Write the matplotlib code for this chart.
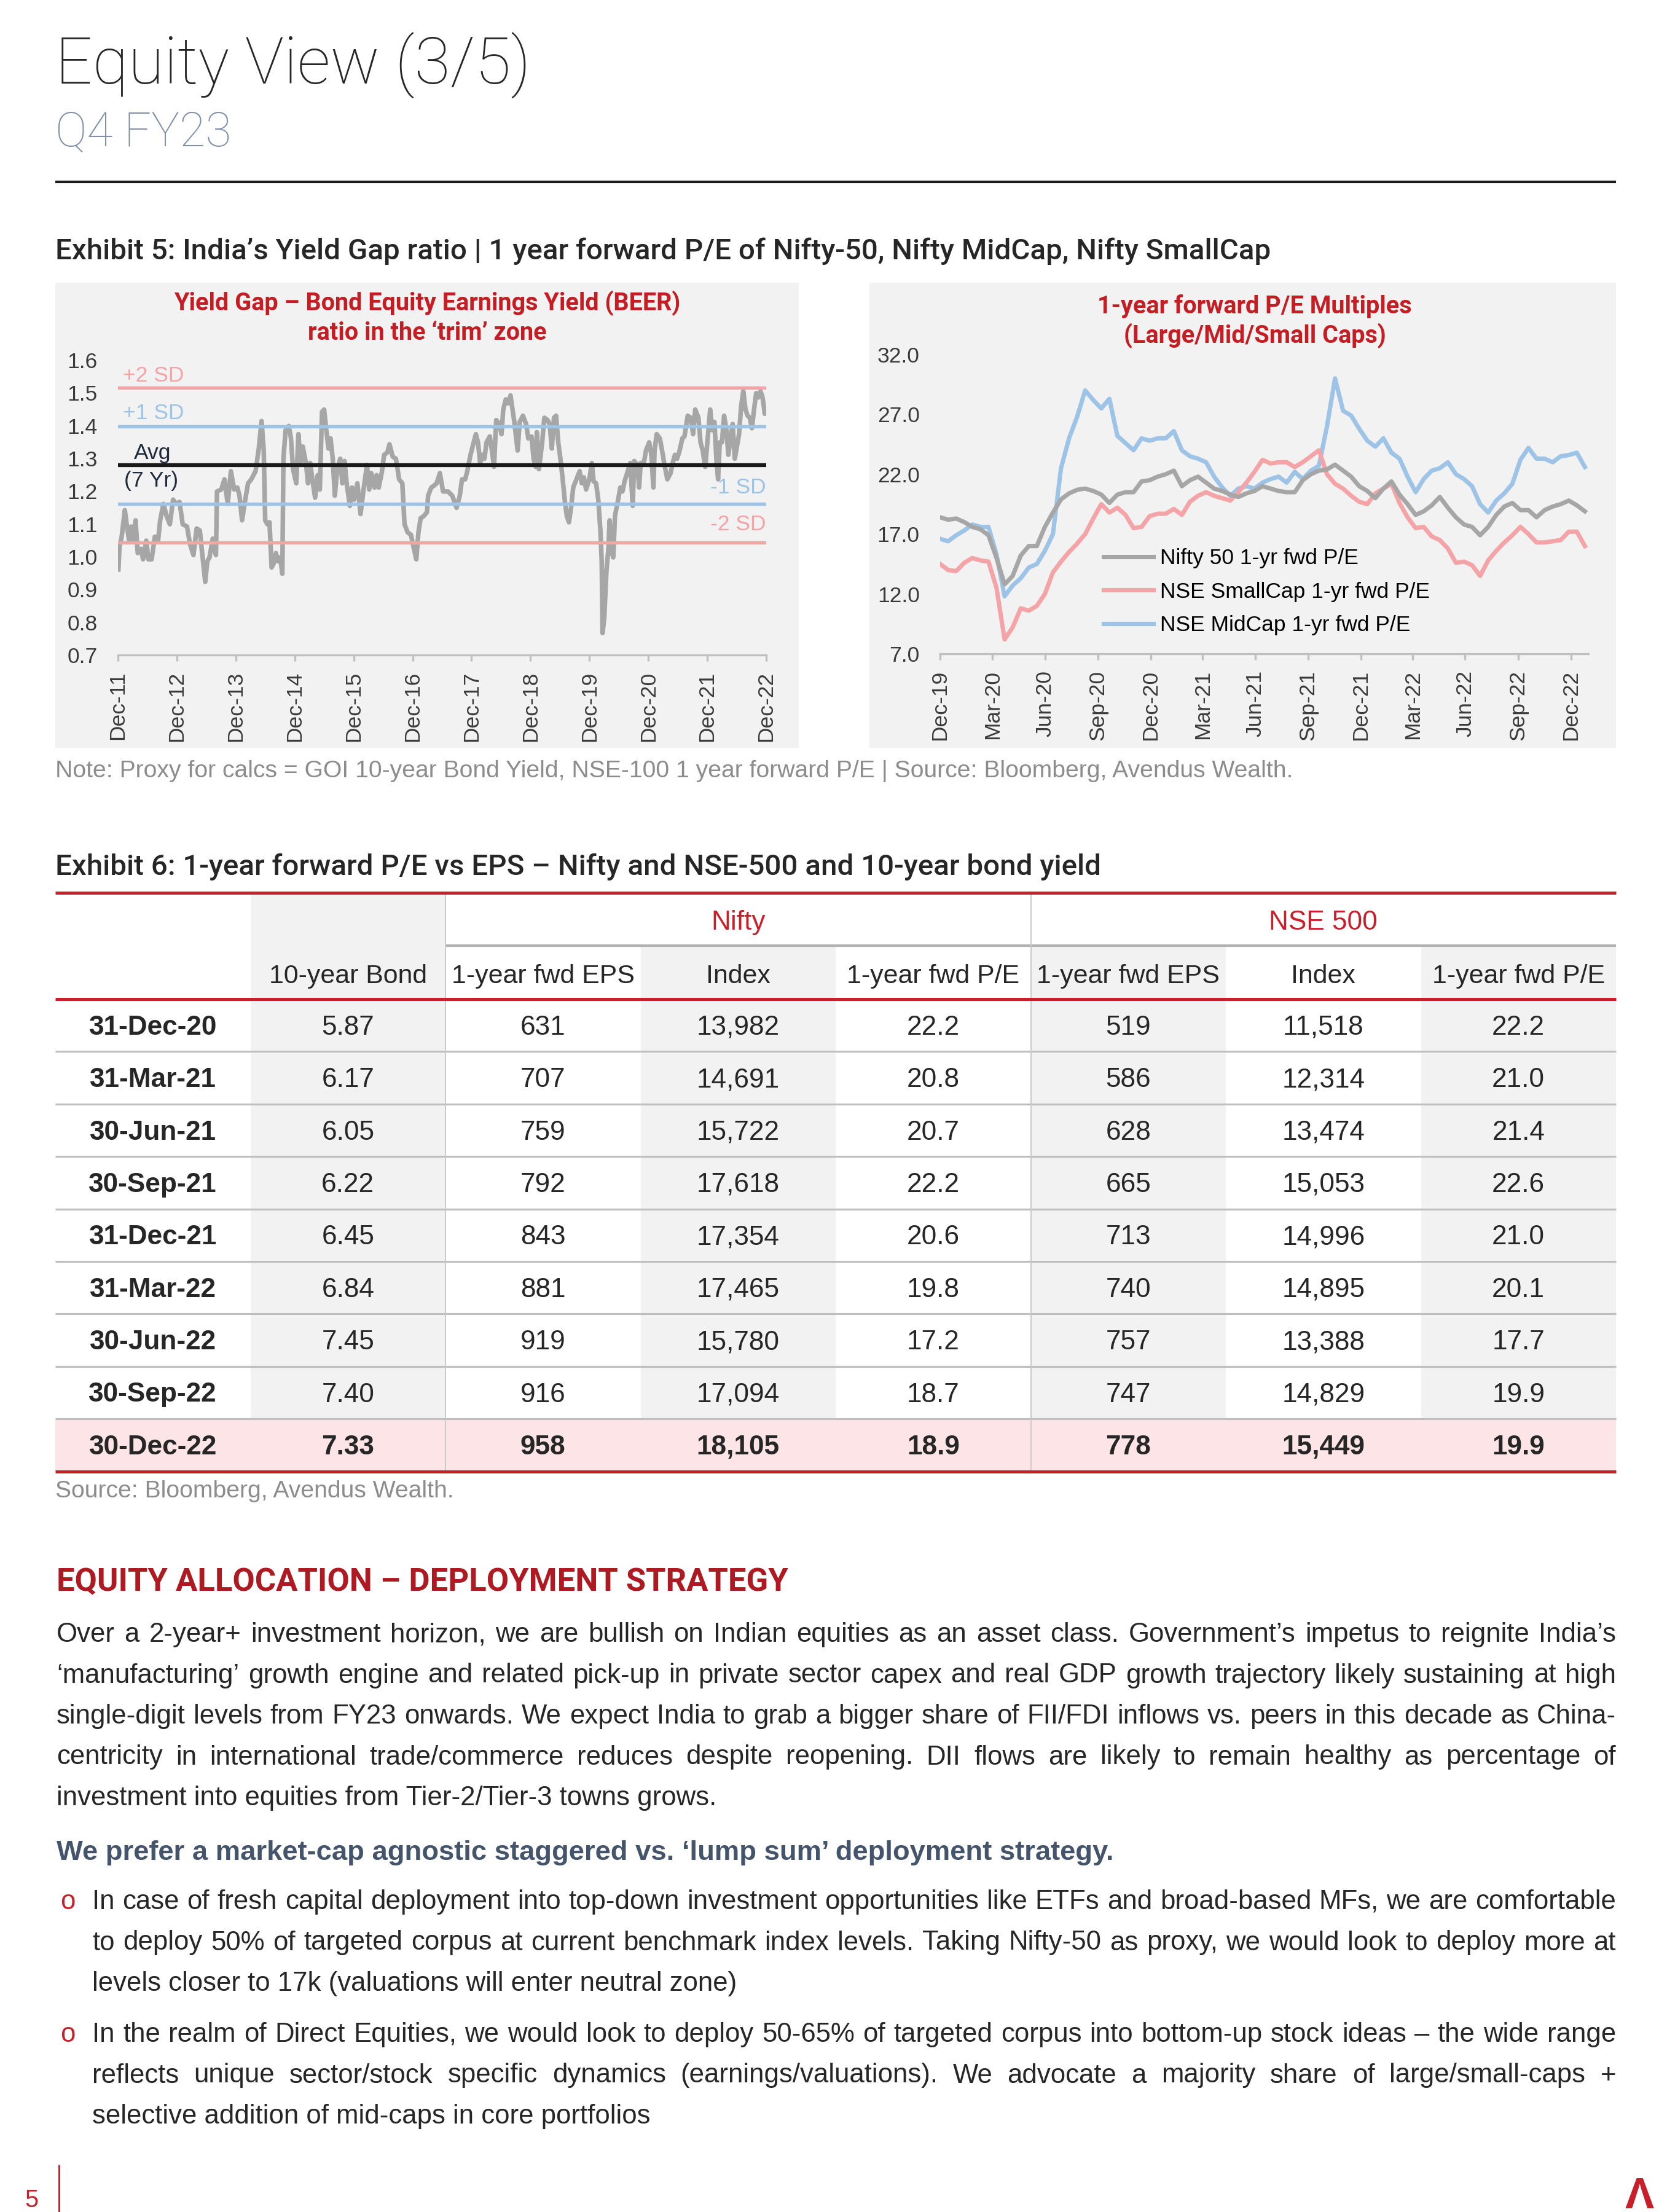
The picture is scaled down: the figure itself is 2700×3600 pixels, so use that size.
import matplotlib
matplotlib.use("Agg")
import matplotlib.pyplot as plt
from matplotlib.lines import Line2D
from matplotlib.patches import Rectangle
import pandas as pd

# ---- data: yield gap (BEER) ratio (decimal years) ----
beer_t = [2011.924, 2011.942, 2011.979, 2012.033, 2012.070, 2012.106, 2012.142, 2012.179, 2012.215, 2012.252,
          2012.306, 2012.342, 2012.397, 2012.433, 2012.488, 2012.542, 2012.597, 2012.633, 2012.688, 2012.742,
          2012.797, 2012.852, 2012.906, 2012.961, 2013.015, 2013.088, 2013.142, 2013.197, 2013.252, 2013.306,
          2013.342, 2013.397, 2013.433, 2013.470, 2013.524, 2013.579, 2013.597, 2013.670, 2013.724, 2013.779,
          2013.833, 2013.888, 2013.942, 2013.979, 2014.022, 2014.070, 2014.124, 2014.179, 2014.252, 2014.306,
          2014.353, 2014.390, 2014.415, 2014.452, 2014.488, 2014.524, 2014.561, 2014.597, 2014.633, 2014.670,
          2014.706, 2014.724, 2014.761, 2014.815, 2014.852, 2014.888, 2014.942, 2014.979, 2015.015, 2015.052,
          2015.106, 2015.142, 2015.179, 2015.215, 2015.262, 2015.306, 2015.342, 2015.379, 2015.415, 2015.452,
          2015.488, 2015.524, 2015.561, 2015.597, 2015.633, 2015.688, 2015.724, 2015.761, 2015.797, 2015.852,
          2015.888, 2015.924, 2015.979, 2016.033, 2016.088, 2016.142, 2016.179, 2016.215, 2016.270, 2016.306,
          2016.342, 2016.397, 2016.433, 2016.488, 2016.524, 2016.579, 2016.633, 2016.688, 2016.742, 2016.779,
          2016.833, 2016.888, 2016.924, 2016.979, 2017.015, 2017.052, 2017.106, 2017.161, 2017.179, 2017.233,
          2017.288, 2017.324, 2017.379, 2017.433, 2017.518, 2017.590, 2017.663, 2017.717, 2017.754, 2017.808,
          2017.844, 2017.899, 2017.953, 2017.990, 2018.026, 2018.062, 2018.099, 2018.135, 2018.171, 2018.226,
          2018.262, 2018.298, 2018.335, 2018.389, 2018.425, 2018.454, 2018.498, 2018.534, 2018.578, 2018.607,
          2018.643, 2018.698, 2018.734, 2018.788, 2018.843, 2018.879, 2018.934, 2018.970, 2019.006, 2019.024,
          2019.061, 2019.115, 2019.152, 2019.206, 2019.242, 2019.279, 2019.315, 2019.351, 2019.388, 2019.424,
          2019.460, 2019.497, 2019.533, 2019.569, 2019.605, 2019.642, 2019.696, 2019.751, 2019.787, 2019.823,
          2019.860, 2019.914, 2019.958, 2019.987, 2020.030, 2020.067, 2020.103, 2020.125, 2020.139, 2020.168,
          2020.205, 2020.241, 2020.259, 2020.295, 2020.321, 2020.350, 2020.404, 2020.441, 2020.477, 2020.513,
          2020.568, 2020.611, 2020.651, 2020.677, 2020.731, 2020.760, 2020.786, 2020.840, 2020.876, 2020.931,
          2020.967, 2021.003, 2021.022, 2021.058, 2021.112, 2021.149, 2021.185, 2021.239, 2021.294, 2021.330,
          2021.367, 2021.403, 2021.439, 2021.494, 2021.530, 2021.584, 2021.639, 2021.675, 2021.712, 2021.766,
          2021.802, 2021.839, 2021.882, 2021.918, 2021.966, 2022.002, 2022.038, 2022.075, 2022.100, 2022.129,
          2022.165, 2022.202, 2022.238, 2022.274, 2022.311, 2022.347, 2022.383, 2022.420, 2022.456, 2022.492,
          2022.528, 2022.565, 2022.601, 2022.637, 2022.674, 2022.710, 2022.746, 2022.783, 2022.819, 2022.855,
          2022.892, 2022.917]
beer_v = [0.961, 1.030, 1.060, 1.142, 1.092, 1.049, 1.092, 1.049, 1.111, 1.011,
          1.024, 0.992, 1.049, 0.992, 0.992, 1.061, 1.049, 1.111, 1.161, 1.124,
          1.099, 1.174, 1.161, 1.167, 1.099, 1.092, 1.036, 1.005, 1.086, 1.080,
          1.017, 0.923, 0.986, 0.998, 1.055, 1.005, 1.199, 1.205, 1.236, 1.161,
          1.261, 1.205, 1.211, 1.186, 1.111, 1.167, 1.224, 1.236, 1.261, 1.330,
          1.414, 1.324, 1.111, 1.099, 1.105, 0.967, 0.980, 1.011, 0.986, 0.998,
          0.948, 1.299, 1.386, 1.399, 1.361, 1.267, 1.224, 1.374, 1.280, 1.336,
          1.286, 1.224, 1.286, 1.236, 1.180, 1.249, 1.205, 1.442, 1.449, 1.386,
          1.330, 1.361, 1.299, 1.186, 1.261, 1.299, 1.224, 1.292, 1.224, 1.155,
          1.211, 1.174, 1.224, 1.130, 1.211, 1.280, 1.205, 1.255, 1.211, 1.249,
          1.211, 1.261, 1.311, 1.318, 1.343, 1.305, 1.299, 1.236, 1.224, 1.099,
          1.074, 1.067, 1.036, 0.992, 1.074, 1.117, 1.124, 1.136, 1.186, 1.211,
          1.218, 1.224, 1.255, 1.199, 1.199, 1.186, 1.149, 1.186, 1.236, 1.236,
          1.261, 1.311, 1.349, 1.374, 1.349, 1.286, 1.311, 1.299, 1.349, 1.367,
          1.324, 1.274, 1.417, 1.405, 1.374, 1.449, 1.480, 1.468, 1.492, 1.455,
          1.411, 1.324, 1.411, 1.430, 1.405, 1.361, 1.367, 1.299, 1.274, 1.380,
          1.267, 1.349, 1.424, 1.417, 1.405, 1.330, 1.424, 1.430, 1.349, 1.299,
          1.242, 1.174, 1.124, 1.105, 1.149, 1.211, 1.236, 1.261, 1.224, 1.242,
          1.205, 1.236, 1.286, 1.230, 1.224, 1.174, 1.080, 0.986, 0.767, 0.811,
          0.955, 1.030, 1.111, 1.011, 0.998, 1.124, 1.174, 1.211, 1.199, 1.230,
          1.261, 1.286, 1.155, 1.292, 1.280, 1.211, 1.286, 1.286, 1.324, 1.349,
          1.311, 1.211, 1.324, 1.374, 1.361, 1.324, 1.286, 1.236, 1.255, 1.286,
          1.311, 1.299, 1.318, 1.361, 1.367, 1.430, 1.424, 1.374, 1.449, 1.424,
          1.349, 1.324, 1.274, 1.349, 1.449, 1.386, 1.411, 1.286, 1.236, 1.349,
          1.349, 1.430, 1.392, 1.311, 1.361, 1.405, 1.299, 1.336, 1.374, 1.461,
          1.505, 1.449, 1.430, 1.424, 1.392, 1.449, 1.499, 1.486, 1.505, 1.486,
          1.436, 1.442]
beer_bands = [1.516, 1.397, 1.279, 1.161, 1.043]   # +2SD, +1SD, avg, -1SD, -2SD
beer_ticks = ["Dec-11", "Dec-12", "Dec-13", "Dec-14", "Dec-15", "Dec-16",
              "Dec-17", "Dec-18", "Dec-19", "Dec-20", "Dec-21", "Dec-22"]

# ---- data: 1-yr fwd P/E, fortnightly from 31-Dec-19 ----
pe_dates = pd.date_range("2019-12-31", periods=81, freq="14D")
nifty_pe_s = [18.4, 18.2, 18.3, 18.0, 17.6, 17.4, 16.9, 15.0, 12.8, 13.5,
              15.2, 16.0, 16.0, 17.6, 18.8, 19.9, 20.4, 20.7, 20.8, 20.6,
              20.3, 19.6, 20.3, 20.5, 20.5, 21.4, 21.5, 21.8, 22.0, 22.3,
              21.0, 21.5, 21.8, 21.3, 20.8, 20.6, 20.3, 20.1, 20.4, 20.6,
              21.0, 20.8, 20.6, 20.5, 20.5, 21.5, 22.0, 22.3, 22.4, 22.8,
              22.3, 21.8, 21.0, 20.6, 20.0, 20.8, 21.4, 20.3, 19.5, 18.6,
              18.9, 19.4, 20.1, 19.2, 18.4, 17.8, 17.6, 16.9, 17.6, 18.6,
              19.3, 19.6, 19.0, 19.0, 18.4, 19.0, 19.3, 19.5, 19.8, 19.4, 18.9]
small_pe_s = [14.5, 14.0, 13.9, 14.6, 15.0, 14.8, 14.7, 12.5, 8.2, 9.2,
              10.8, 10.6, 11.0, 12.0, 13.8, 14.7, 15.5, 16.2, 17.0, 18.3,
              19.5, 18.8, 19.2, 18.6, 17.5, 17.6, 18.5, 18.7, 18.7, 19.1,
              18.6, 19.7, 20.2, 20.5, 20.2, 20.0, 19.8, 20.5, 21.3, 22.2,
              23.2, 22.9, 23.0, 23.0, 22.6, 23.0, 23.5, 24.0, 22.0, 21.2,
              20.8, 20.2, 19.7, 19.5, 20.4, 20.8, 21.2, 19.6, 18.4, 17.5,
              17.6, 16.8, 16.5, 15.8, 14.6, 14.7, 14.4, 13.5, 14.8, 15.6,
              16.3, 16.9, 17.6, 17.0, 16.3, 16.3, 16.4, 16.5, 17.2, 17.2, 16.0]
mid_pe_s = [16.6, 16.4, 16.9, 17.3, 17.8, 17.6, 17.6, 15.3, 11.8, 12.7,
            13.3, 14.2, 14.5, 15.6, 17.0, 22.5, 25.0, 26.8, 29.0, 28.2,
            27.5, 28.3, 25.2, 24.6, 24.0, 25.0, 24.8, 25.0, 25.0, 25.6,
            24.0, 23.5, 23.3, 23.0, 21.8, 20.9, 20.2, 20.8, 21.0, 20.8,
            21.3, 21.6, 21.8, 21.3, 22.2, 21.6, 22.3, 22.7, 26.0, 30.0,
            27.3, 26.9, 25.8, 24.8, 24.3, 25.0, 23.8, 23.3, 21.8, 20.5,
            21.6, 22.3, 22.5, 23.0, 22.0, 21.6, 21.0, 19.5, 18.8, 19.8,
            20.4, 21.2, 23.2, 24.2, 23.3, 23.3, 23.0, 23.5, 23.6, 23.8, 22.6]
pe_ticks = ["2019-12-31", "2020-03-31", "2020-06-30", "2020-09-30", "2020-12-31", "2021-03-31",
            "2021-06-30", "2021-09-30", "2021-12-31", "2022-03-31", "2022-06-30", "2022-09-30",
            "2022-12-31"]

# ---- data: exhibit 6 table ----
tbl_dates = ["31-Dec-20", "31-Mar-21", "30-Jun-21", "30-Sep-21", "31-Dec-21",
             "31-Mar-22", "30-Jun-22", "30-Sep-22", "30-Dec-22"]
bond_yield = [5.87, 6.17, 6.05, 6.22, 6.45, 6.84, 7.45, 7.40, 7.33]
nifty_eps = [631, 707, 759, 792, 843, 881, 919, 916, 958]
nifty_idx = [13982, 14691, 15722, 17618, 17354, 17465, 15780, 17094, 18105]
nifty_pe = [22.2, 20.8, 20.7, 22.2, 20.6, 19.8, 17.2, 18.7, 18.9]
nse_eps = [519, 586, 628, 665, 713, 740, 757, 747, 778]
nse_idx = [11518, 12314, 13474, 15053, 14996, 14895, 13388, 14829, 15449]
nse_pe = [22.2, 21.0, 21.4, 22.6, 21.0, 20.1, 17.7, 19.9, 19.9]
col_heads = ["10-year Bond", "1-year fwd EPS", "Index", "1-year fwd P/E",
             "1-year fwd EPS", "Index", "1-year fwd P/E"]

para = [
    "Over a 2-year+ investment horizon, we are bullish on Indian equities as an asset class. Government\u2019s impetus to reignite India\u2019s",
    "\u2018manufacturing\u2019 growth engine and related pick-up in private sector capex and real GDP growth trajectory likely sustaining at high",
    "single-digit levels from FY23 onwards. We expect India to grab a bigger share of FII/FDI inflows vs. peers in this decade as China-",
    "centricity in international trade/commerce reduces despite reopening. DII flows are likely to remain healthy as percentage of",
    "investment into equities from Tier-2/Tier-3 towns grows.",
]
bullet1 = [
    "In case of fresh capital deployment into top-down investment opportunities like ETFs and broad-based MFs, we are comfortable",
    "to deploy 50% of targeted corpus at current benchmark index levels. Taking Nifty-50 as proxy, we would look to deploy more at",
    "levels closer to 17k (valuations will enter neutral zone)",
]
bullet2 = [
    "In the realm of Direct Equities, we would look to deploy 50-65% of targeted corpus into bottom-up stock ideas \u2013 the wide range",
    "reflects unique sector/stock specific dynamics (earnings/valuations). We advocate a majority share of large/small-caps +",
    "selective addition of mid-caps in core portfolios",
]

W, H = 2700, 3600
RED = "#c8202a"
GREY = "#a6a6a6"
PINK = "#f4a3a6"
BLUE = "#9dc3e6"
DARK = "#262626"
HEAD = ["Roboto", "DejaVu Sans"]
BODY_FS = 10.5

plt.rcParams["font.family"] = ["Liberation Sans", "DejaVu Sans"]
fig = plt.figure(figsize=(9, 12), dpi=300)
rend = fig.canvas.get_renderer()


def fx(px):
    return px / W


def fy(py):
    return 1 - py / H


def put(x, y, s, **kw):
    kw.setdefault("va", "baseline")
    return fig.text(fx(x), fy(y), s, **kw)


def hline(x0, x1, y, color, lw, z=2):
    fig.add_artist(Line2D([fx(x0), fx(x1)], [fy(y), fy(y)], color=color, lw=lw,
                          transform=fig.transFigure, zorder=z, solid_capstyle="butt"))


def vline(x, y0, y1, color, lw, z=2):
    fig.add_artist(Line2D([fx(x), fx(x)], [fy(y0), fy(y1)], color=color, lw=lw,
                          transform=fig.transFigure, zorder=z, solid_capstyle="butt"))


def box(x0, y0, x1, y1, color, z=-5):
    fig.add_artist(Rectangle((fx(x0), fy(y1)), fx(x1) - fx(x0), fy(y0) - fy(y1),
                             transform=fig.transFigure, facecolor=color, edgecolor="none", zorder=z))


def text_line(s, x0, x1, y, justify=True, **kw):
    # justified body text: spread the words to fill x0..x1
    if not justify:
        put(x0, y, s, **kw)
        return
    words = s.split(" ")
    arts = [put(x0, y, w, **kw) for w in words]
    widths = [a.get_window_extent(renderer=rend).width for a in arts]
    gap = (x1 - x0 - sum(widths)) / (len(words) - 1)
    x = x0
    for a, w in zip(arts, widths):
        a.set_x(fx(x))
        x += w + gap


# ---- page header ----
put(90, 137, "Equity View (3/5)", fontsize=25.5, color=DARK, family=HEAD, fontweight="light")
put(90, 238, "Q4 FY23", fontsize=18.5, color="#8090a8", family=HEAD, fontweight="light")
hline(90, 2630, 296, "#1a1a1a", 1.0)
put(90, 422, "Exhibit 5: India\u2019s Yield Gap ratio | 1 year forward P/E of Nifty-50, Nifty MidCap, Nifty SmallCap",
    fontsize=11.4, color=DARK, family=HEAD, fontweight="medium")

# ---- chart panels ----
box(90, 460, 1300, 1217, "#f2f2f2")
box(1415, 460, 2630, 1217, "#f2f2f2")

tick_kw = dict(labelsize=8.5, labelcolor="#3a3a3a")
TITLE_RED = "#c41e24"

# left: BEER ratio
ax1 = fig.add_axes([fx(192), fy(1066), fx(1247) - fx(192), fy(586) - fy(1066)])
ax1.set_facecolor("none")
ax1.plot(beer_t, beer_v, color=GREY, lw=1.8, zorder=2)
band_cols = [PINK, BLUE, "#1a1a1a", BLUE, PINK]
for v, c in zip(beer_bands, band_cols):
    ax1.axhline(v, color=c, lw=1.3 if c != "#1a1a1a" else 1.5, zorder=3)
tick_pos = [2000 + int(s[-2:]) + 11 / 12 for s in beer_ticks]
ax1.set_xlim(tick_pos[0], tick_pos[-1])
ax1.set_ylim(0.7, 1.6)
ax1.set_xticks(tick_pos)
ax1.set_xticklabels(beer_ticks, rotation=90)
ax1.set_yticks([0.7, 0.8, 0.9, 1.0, 1.1, 1.2, 1.3, 1.4, 1.5, 1.6])
ax1.yaxis.set_major_formatter(matplotlib.ticker.FormatStrFormatter("%.1f"))
ax1.text(2011.997, 1.552, "+2 SD", color=PINK, fontsize=8.5, va="center")
ax1.text(2011.997, 1.437, "+1 SD", color=BLUE, fontsize=8.5, va="center")
ax1.text(2012.50, 1.316, "Avg", color="#1f2a3c", fontsize=8.5, va="center", ha="center")
ax1.text(2012.48, 1.232, "(7 Yr)", color="#1f2a3c", fontsize=8.5, va="center", ha="center")
ax1.text(tick_pos[-1], 1.211, "-1 SD", color=BLUE, fontsize=8.5, va="center", ha="right")
ax1.text(tick_pos[-1], 1.098, "-2 SD", color=PINK, fontsize=8.5, va="center", ha="right")
put(695, 505, "Yield Gap \u2013 Bond Equity Earnings Yield (BEER)", fontsize=9.5, color=TITLE_RED,
    family=HEAD, fontweight="bold", ha="center")
put(695, 553, "ratio in the \u2018trim\u2019 zone", fontsize=9.5, color=TITLE_RED,
    family=HEAD, fontweight="bold", ha="center")

# right: P/E multiples
ax2 = fig.add_axes([fx(1530), fy(1064), fx(2585) - fx(1530), fy(577) - fy(1064)])
ax2.set_facecolor("none")
ax2.plot(pe_dates, mid_pe_s, color=BLUE, lw=1.7, label="NSE MidCap 1-yr fwd P/E", zorder=2)
ax2.plot(pe_dates, small_pe_s, color=PINK, lw=1.7, label="NSE SmallCap 1-yr fwd P/E", zorder=3)
ax2.plot(pe_dates, nifty_pe_s, color=GREY, lw=1.7, label="Nifty 50 1-yr fwd P/E", zorder=4)
qt = pd.to_datetime(pe_ticks)
ax2.set_xlim(qt[0], pd.Timestamp("2023-01-30"))
ax2.set_ylim(7, 32)
ax2.set_xticks(qt)
ax2.set_xticklabels(qt.strftime("%b-%y"), rotation=90)
ax2.set_yticks([7, 12, 17, 22, 27, 32])
ax2.yaxis.set_major_formatter(matplotlib.ticker.FormatStrFormatter("%.1f"))
h, l = ax2.get_legend_handles_labels()
ax2.legend(h[::-1], l[::-1], loc="center left", bbox_to_anchor=(0.252, 0.207), frameon=False,
           fontsize=8.5, borderpad=0, borderaxespad=0, labelspacing=0.6, handlelength=2.3,
           handletextpad=0.3)
put(2042, 510, "1-year forward P/E Multiples", fontsize=9.5, color=TITLE_RED,
    family=HEAD, fontweight="bold", ha="center")
put(2042, 558, "(Large/Mid/Small Caps)", fontsize=9.5, color=TITLE_RED,
    family=HEAD, fontweight="bold", ha="center")

for ax in (ax1, ax2):
    for side in ("top", "right", "left"):
        ax.spines[side].set_visible(False)
    ax.spines["bottom"].set_color("#bfbfbf")
    ax.spines["bottom"].set_linewidth(0.8)
    ax.tick_params(axis="x", length=2.4, width=0.8, color="#bfbfbf", pad=4, **tick_kw)
    ax.tick_params(axis="y", length=0, pad=8, **tick_kw)

put(90, 1265, "Note: Proxy for calcs = GOI 10-year Bond Yield, NSE-100 1 year forward P/E | Source: Bloomberg, Avendus Wealth.",
    fontsize=9.4, color="#8c8c8c")

# ---- exhibit 6 table ----
put(90, 1424, "Exhibit 6: 1-year forward P/E vs EPS \u2013 Nifty and NSE-500 and 10-year bond yield",
    fontsize=11.4, color=DARK, family=HEAD, fontweight="medium")
edges = [90 + 317.5 * i for i in range(9)]
row_top, row_h = 1626, 85.4
n = len(tbl_dates)
row_bot = row_top + n * row_h
box(edges[1], 1456, edges[2], row_bot, "#f2f2f2", z=1)
for c in (3, 5, 7):
    box(edges[c], 1541, edges[c + 1], row_bot, "#f2f2f2", z=1)
box(edges[0], row_top + (n - 1) * row_h, edges[8], row_bot, "#fce4e7", z=1.5)
for k in range(1, n):
    hline(edges[0], edges[8], row_top + k * row_h, "#bfbfbf", 0.75)
hline(edges[2], edges[8], 1539, "#b3b3b3", 1.0)
for x in (edges[2], edges[5]):
    vline(x, 1456, row_bot, "#c8c8c8", 0.45)
for y in (1453, row_top, row_bot):
    hline(edges[0], edges[8], y, RED, 1.2)

put((edges[2] + edges[5]) / 2, 1513, "Nifty", fontsize=10.6, color=RED, ha="center")
put((edges[5] + edges[8]) / 2, 1513, "NSE 500", fontsize=10.6, color=RED, ha="center")
centers = [(edges[i] + edges[i + 1]) / 2 for i in range(8)]
for i, s in enumerate(col_heads):
    put(centers[i + 1], 1600, s, fontsize=10.3, color=DARK, ha="center")
for r in range(n):
    cells = [tbl_dates[r], "%.2f" % bond_yield[r], "%d" % nifty_eps[r], "{:,}".format(nifty_idx[r]),
             "%.1f" % nifty_pe[r], "%d" % nse_eps[r], "{:,}".format(nse_idx[r]), "%.1f" % nse_pe[r]]
    yb = row_top + r * row_h + row_h / 2 + 15
    for c, s in enumerate(cells):
        bold = (c == 0) or (r == n - 1)
        put(centers[c], yb, s, fontsize=10.6, color=DARK, ha="center",
            fontweight="bold" if bold else "normal")
put(90, 2437, "Source: Bloomberg, Avendus Wealth.", fontsize=9.4, color="#8c8c8c")

# ---- strategy text ----
put(92, 2589, "EQUITY ALLOCATION \u2013 DEPLOYMENT STRATEGY", fontsize=12.6, color="#ad1a22",
    family=HEAD, fontweight="bold")
for i, s in enumerate(para):
    text_line(s, 92, 2630, 2672 + 66.5 * i, justify=i < len(para) - 1, fontsize=BODY_FS, color=DARK)
put(92, 3027, "We prefer a market-cap agnostic staggered vs. \u2018lump sum\u2019 deployment strategy.",
    fontsize=10.9, color="#44546a", fontweight="bold")
for start, lines in ((3107, bullet1), (3323, bullet2)):
    put(98, start, "o", fontsize=BODY_FS, color=RED)
    for i, s in enumerate(lines):
        text_line(s, 150, 2630, start + 66.5 * i, justify=i < len(lines) - 1, fontsize=BODY_FS, color=DARK)

# ---- footer ----
put(40, 3592, "5", fontsize=9.5, color=RED)
vline(96, 3523, 3600, RED, 0.7)
put(2668, 3594, "\u039b", fontsize=17, color=RED, fontweight="bold", ha="center")

fig.savefig("out.png", dpi=300)
